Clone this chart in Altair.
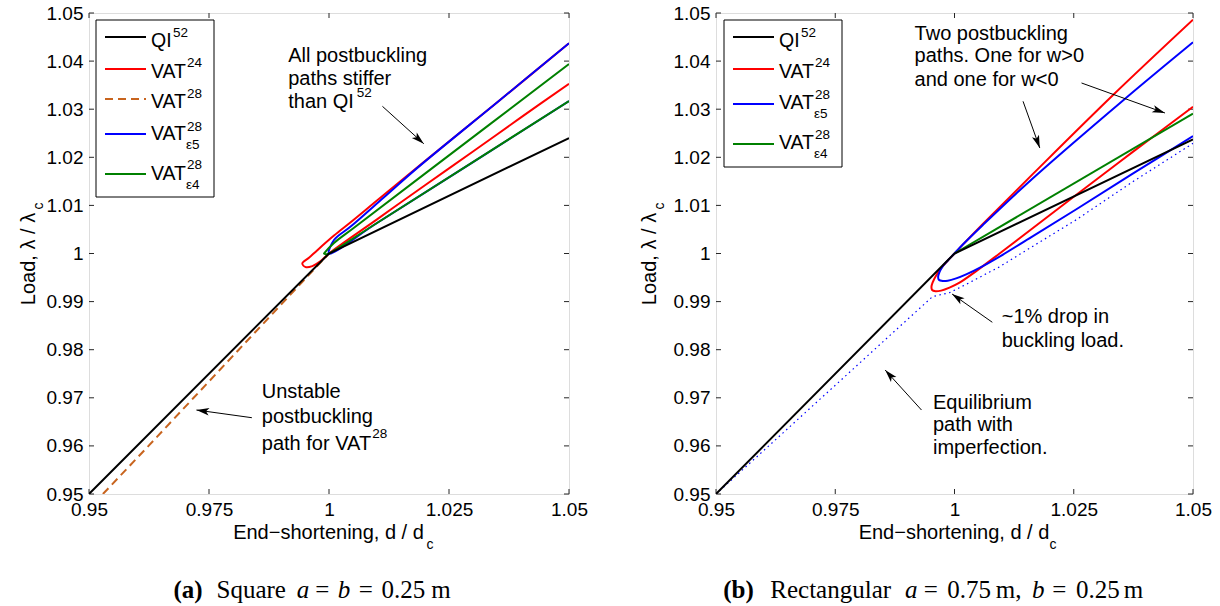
import math
import altair as alt
import pandas as pd

FONT = "Liberation Sans"
SERIF = "Liberation Serif"
FRAME = "#262626"
C_QI, C_24, C_28, C_E5, C_E4 = "#000000", "#FF0000", "#C8641E", "#0000FF", "#008000"

XT = [0.95, 0.975, 1.0, 1.025, 1.05]
YT = [0.95, 0.96, 0.97, 0.98, 0.99, 1.0, 1.01, 1.02, 1.03, 1.04, 1.05]
H = 481
WA = 480
WB = 477

# ---------------- panel (a): square plate ----------------
A_QI_X = [0.95, 1.0, 1.05]
A_QI_Y = [0.95, 1.0, 1.024]
A_V24_X = [1.05, 1.035, 1.02, 1.01, 1.00451, 1.00104, 0.99757, 0.99583, 0.99444, 0.99514,
           0.99653, 0.99826, 1.0, 1.01, 1.02, 1.03, 1.04, 1.05]
A_V24_Y = [1.0437, 1.0314, 1.0192, 1.0110, 1.00648, 1.00372, 1.00069, 0.9991, 0.99793, 0.99717,
           0.99738, 0.99841, 1.0, 1.0071, 1.0142, 1.0212, 1.0283, 1.0353]
A_V28_X = [0.9529, 0.9624, 0.9718, 0.9812, 0.9906, 1.0]
A_V28_Y = [0.95, 0.96, 0.97, 0.98, 0.99, 1.0]
A_E5_X = [1.05, 1.035, 1.0184, 1.01146, 1.00451, 1.00104, 1.0, 1.01, 1.03, 1.05]
A_E5_Y = [1.0437, 1.0314, 1.0178, 1.0117, 1.0056, 1.0028, 1.0, 1.00634, 1.0190, 1.0317]
A_E4_X = [1.05, 1.02, 1.005, 1.00104, 0.9992, 0.99896, 0.9995, 1.0, 1.01, 1.05]
A_E4_Y = [1.0394, 1.0166, 1.0052, 1.0022, 1.0003, 0.99995, 0.99985, 1.0, 1.00634, 1.0317]

# ---------------- panel (b): rectangular plate ----------------
B_QI_X = [0.95, 1.0, 1.05]
B_QI_Y = [0.95, 1.0, 1.0237]
B_V24_X = [1.05, 1.0333, 1.0165, 1.0060, 1.0018, 1.0, 0.9986, 0.9972, 0.99615, 0.99545, 0.99517,
           0.99531, 0.99601, 0.9972, 0.99895, 1.00105, 1.00455, 1.00945, 1.01645, 1.02555, 1.03745, 1.05]
B_V24_Y = [1.0486, 1.0330, 1.0166, 1.0062, 1.0019, 1.0, 0.99855, 0.99697, 0.99545, 0.99407, 0.9931,
           0.99241, 0.99214, 0.99228, 0.9929, 0.99393, 0.99634, 1.0, 1.00531, 1.01221, 1.02117, 1.0305]
B_E5_X = [1.05, 1.0357, 1.01645, 1.00595, 1.00175, 1.0, 0.9986, 0.99755, 0.99685, 0.99657, 0.99671,
          0.99755, 0.9986, 1.00035, 1.00245, 1.00595, 1.00945, 1.01645, 1.02555, 1.03745, 1.05]
B_E5_Y = [1.04393, 1.03214, 1.01566, 1.00593, 1.00186, 1.0, 0.99855, 0.99738, 0.99614, 0.99517, 0.99455,
          0.99428, 0.99434, 0.99483, 0.99566, 0.99738, 0.99935, 1.0036, 1.0092, 1.01665, 1.02441]
B_E4_X = [1.0, 1.05]
B_E4_Y = [1.0, 1.0291]
B_IMP_X = [0.95, 0.99538, 0.99895, 1.00245, 1.00945, 1.01645, 1.02555, 1.03745, 1.05]
B_IMP_Y = [0.95, 0.99103, 0.99186, 0.99359, 0.99724, 1.00152, 1.00703, 1.01497, 1.0229]

# annotation texts (data coordinates)
A_NOTES = [("All postbuckling", 0.9915, 1.04106), ("paths stiffer", 0.9915, 1.03628), ("than QI", 0.9915, 1.0315),
           ("Unstable", 0.986, 0.97127), ("postbuckling", 0.986, 0.96607), ("path for VAT", 0.986, 0.9604)]
A_NOTE_SUP = [("52", 1.0058, 1.03337), ("28", 1.009, 0.96247)]
A_ARROWS = [(1.01113, 1.0306, 1.01974, 1.02283), (0.98393, 0.96586, 0.97238, 0.96746)]
B_NOTES = [("Two postbuckling", 0.99163, 1.0457), ("paths. One for w>0", 0.99163, 1.0410),
           ("and one for w<0", 0.99163, 1.03613), ("~1% drop in", 1.0099, 0.98686),
           ("buckling load.", 1.0099, 0.98187), ("Equilibrium", 0.99548, 0.96898),
           ("path with", 0.99548, 0.96435), ("imperfection.", 0.99548, 0.9595)]
B_NOTE_SUP = []
B_ARROWS = [(1.01437, 1.03164, 1.01788, 1.02193), (1.02663, 1.03545, 1.04412, 1.02921),
            (1.00793, 0.9857, 0.99949, 0.99158), (0.99308, 0.96746, 0.98546, 0.97578)]

ARROW_PATH = "M0,0 L0.55,1.9 L0,1.45 L-0.55,1.9 Z"

XS = alt.Scale(domain=[0.95, 1.05], nice=False, zero=False)
YS = alt.Scale(domain=[0.95, 1.05], nice=False, zero=False)
XAXIS = alt.Axis(values=XT, labelExpr="format(datum.value, '.3~f')", ticks=False, domain=False, grid=False,
                 labelFont=FONT, labelFontSize=19, labelColor="black", labelPadding=6,
                 labelFlush=False, labelOverlap=False, title=None)
YAXIS = alt.Axis(values=YT, labelExpr="format(datum.value, '.3~f')", ticks=False, domain=False, grid=False,
                 labelFont=FONT, labelFontSize=19, labelColor="black", labelPadding=6,
                 labelFlush=False, labelOverlap=False, title=None)


def X(f):
    return alt.X(f"{f}:Q", scale=XS, axis=XAXIS)


def Y(f):
    return alt.Y(f"{f}:Q", scale=YS, axis=YAXIS)


def curve(xv, yv, color, dash=None, width=2.0, interp="linear"):
    df = pd.DataFrame({"x": xv, "y": yv, "i": list(range(len(xv)))})
    kw = dict(color=color, strokeWidth=width, interpolate=interp, clip=True)
    if dash:
        kw["strokeDash"] = dash
    return alt.Chart(df).mark_line(**kw).encode(x=X("x"), y=Y("y"), order="i:Q")


def texts(rows, size, **kw):
    df = pd.DataFrame(rows, columns=["t", "x", "y"])
    base = dict(align="left", baseline="middle", font=FONT, fontSize=size, color="black")
    base.update(kw)
    return alt.Chart(df).mark_text(**base).encode(x=X("x"), y=Y("y"), text="t:N")


def panel(W, curves, legend, notes, note_sup, arrows, yt_x, yc_x, xc_x, caption):
    px = lambda p: 0.95 + p / W * 0.1
    py = lambda p: 1.05 - p / H * 0.1
    layers = []
    # inward ticks on all four sides
    xt = pd.DataFrame({"v": XT})
    yt = pd.DataFrame({"v": YT})
    for y0, y1 in [(0.95, py(H - 5)), (1.05, py(5))]:
        layers.append(alt.Chart(xt).transform_calculate(a=str(y0), b=str(y1)).mark_rule(
            color=FRAME, strokeWidth=1).encode(x=X("v"), y=Y("a"), y2="b:Q"))
    for x0, x1 in [(0.95, px(5)), (1.05, px(W - 5))]:
        layers.append(alt.Chart(yt).transform_calculate(a=str(x0), b=str(x1)).mark_rule(
            color=FRAME, strokeWidth=1).encode(y=Y("v"), x=X("a"), x2="b:Q"))
    layers += curves
    # arrows
    ar = pd.DataFrame(arrows, columns=["x0", "y0", "x1", "y1"])
    ar["ang"] = [math.degrees(math.atan2((r.x1 - r.x0) * W, (r.y1 - r.y0) * H)) % 360 for r in ar.itertuples()]
    layers.append(alt.Chart(ar).mark_rule(color="black", strokeWidth=1).encode(
        x=X("x0"), y=Y("y0"), x2="x1:Q", y2="y1:Q"))
    layers.append(alt.Chart(ar).mark_point(shape=ARROW_PATH, filled=True, size=180, color="black",
                                           opacity=1, strokeWidth=0).encode(
        x=X("x1"), y=Y("y1"), angle=alt.Angle("ang:Q", scale=None)))
    layers.append(texts(notes, 20))
    if note_sup:
        layers.append(texts(note_sup, 13.5))
    # legend
    box, rows, mains, sups, subs = legend
    bdf = pd.DataFrame([{"x": px(box[0]), "x2": px(box[2]), "y": py(box[1]), "y2": py(box[3])}])
    layers.append(alt.Chart(bdf).mark_rect(fill="white", stroke="black", strokeWidth=1).encode(
        x=X("x"), x2="x2:Q", y=Y("y"), y2="y2:Q"))
    for (x0, x1, yy, col, dash) in rows:
        ldf = pd.DataFrame([{"x": px(x0), "x2": px(x1), "y": py(yy)}])
        kw = dict(color=col, strokeWidth=2)
        if dash:
            kw["strokeDash"] = dash
        layers.append(alt.Chart(ldf).mark_rule(**kw).encode(x=X("x"), x2="x2:Q", y=Y("y")))
    layers.append(texts([(t, px(a), py(b)) for t, a, b in mains], 19.5))
    layers.append(texts([(t, px(a), py(b)) for t, a, b in sups + subs], 13.5))
    # axis titles
    layers.append(texts([("End\u2212shortening, d / d", px(W / 2 - 0.5), py(520))], 20, align="center"))
    layers.append(texts([("c", px(xc_x), py(532))], 14, align="center"))
    layers.append(texts([("Load, \u03bb / \u03bb", px(yt_x), py(246))], 20, align="center", angle=270))
    layers.append(texts([("c", px(yc_x), py(193))], 14, align="center", angle=270))
    # caption
    for style, items in caption:
        kw = dict(font=SERIF)
        if style == "b":
            kw["fontWeight"] = "bold"
        if style == "i":
            kw["fontStyle"] = "italic"
        if style == "c":
            kw["align"] = "center"
        layers.append(texts([(t, px(a), py(577)) for t, a in items], 25, **kw))
    return alt.layer(*layers).properties(width=W, height=H)


A_LEG = ((7, 7, 125, 184),
         [(16, 57, 24, C_QI, None), (16, 57, 56, C_24, None), (16, 57, 86, C_28, [8, 5]),
          (16, 57, 121, C_E5, None), (16, 57, 161, C_E4, None)],
         [("QI", 62, 28), ("VAT", 62, 58.5), ("VAT", 62, 89), ("VAT", 62, 121.3), ("VAT", 62, 161.3)],
         [("52", 84, 20.3), ("24", 98, 50.3), ("28", 98, 81.3), ("28", 98, 113.7), ("28", 98, 152)],
         [("\u03b55", 97, 132.3), ("\u03b54", 97, 172)])
B_LEG = ((8, 7, 126, 154),
         [(17, 58, 24, C_QI, None), (17, 58, 56, C_24, None), (17, 58, 91, C_E5, None),
          (17, 58, 131, C_E4, None)],
         [("QI", 63, 28), ("VAT", 63, 58.5), ("VAT", 63, 90.3), ("VAT", 63, 130.3)],
         [("52", 85, 20.3), ("24", 99, 50.3), ("28", 99, 82), ("28", 99, 122)],
         [("\u03b55", 98, 101), ("\u03b54", 98, 141)])

A_CAP = [("b", [("(a)", 84.4)]),
         ("n", [("Square", 127.5), ("0.25", 292.6), ("m", 342.3)]),
         ("c", [("=", 233.4), ("=", 276.8)]),
         ("i", [("a", 207.8), ("b", 248.7)])]
B_CAP = [("b", [("(b)", 7.2)]),
         ("n", [("Rectangular", 54.3), ("0.75", 231.2), ("m,", 279.7), ("0.25", 359.9), ("m", 407.7)]),
         ("c", [("=", 214.8), ("=", 343.3)]),
         ("i", [("a", 189.1), ("b", 316)])]

curves_a = [curve(A_V24_X, A_V24_Y, C_24, interp="catmull-rom"),
            curve(A_V28_X, A_V28_Y, C_28, dash=[8, 5]),
            curve(A_E5_X, A_E5_Y, C_E5, interp="catmull-rom"),
            curve(A_E4_X, A_E4_Y, C_E4, interp="catmull-rom"),
            curve(A_QI_X, A_QI_Y, C_QI)]
curves_b = [curve(B_V24_X, B_V24_Y, C_24, interp="catmull-rom"),
            curve(B_E5_X, B_E5_Y, C_E5, interp="catmull-rom"),
            curve(B_E4_X, B_E4_Y, C_E4),
            curve(B_IMP_X, B_IMP_Y, C_E5, dash=[1.5, 3.5], width=1.2),
            curve(B_QI_X, B_QI_Y, C_QI)]

left = panel(WA, curves_a, A_LEG, A_NOTES, A_NOTE_SUP, A_ARROWS, -60.5, -50, 341, A_CAP)
right = panel(WB, curves_b, B_LEG, B_NOTES, B_NOTE_SUP, B_ARROWS, -66.5, -56.5, 337, B_CAP)

chart = alt.hconcat(left, right, spacing=50).properties(
    padding={"left": 18, "top": 3, "right": 5, "bottom": 0}
).configure_view(stroke=FRAME, strokeWidth=1.6).configure(background="white")

chart.save("out.html", embed_options={"renderer": "svg", "actions": False})
